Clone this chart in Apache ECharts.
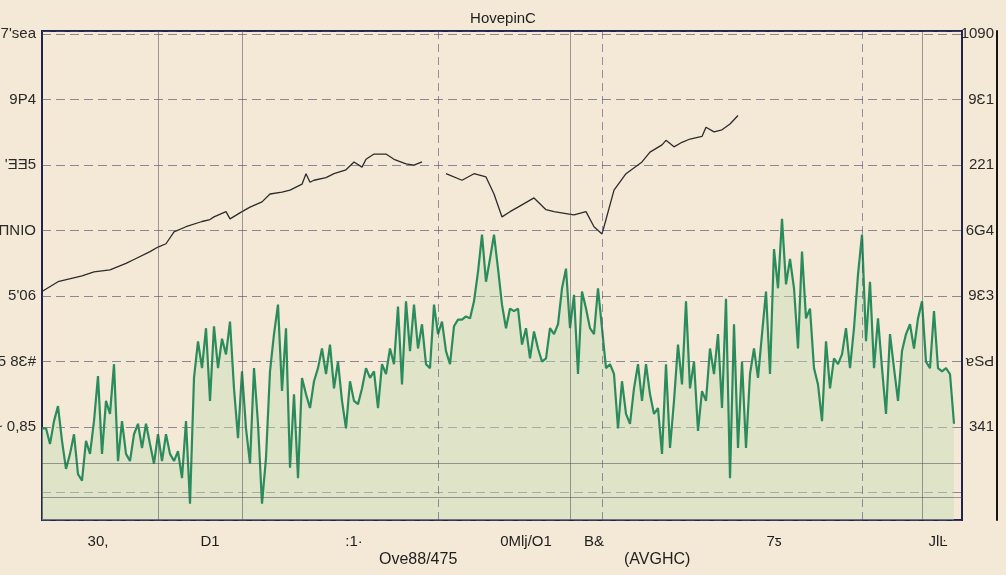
<!DOCTYPE html>
<html>
<head>
<meta charset="utf-8">
<script src="https://cdn.jsdelivr.net/npm/echarts@6/dist/echarts.min.js"></script>
<style>
html,body{margin:0;padding:0;background:#f4e8d6;}
#c{width:1006px;height:575px;}
</style>
</head>
<body>
<div id="c"></div>
<script>
// ---- data ----
const titleText = 'HovepinC';
const subLabels = ['Ove88/475', '(AVGHC)'];
const leftTickLabels  = ['~ 0,85', '5 8Ɛ#', '5\'06', 'ΠNIO', '\'ƎƎ5', '9P4', '7\'sea'];
const rightTickLabels = ['341', 'ɐSԀ', '9Ɛ3', '6G4', '221', '9Ɛ1', '1090'];
const xTickIdx  = [14, 42, 78, 121, 138, 183, 224];
const xTickText = ['30,', 'D1', ':1·', '0Mlj/O1', 'B&', '7ƽ', 'JlĿ'];
const yMin = -1.42, yMax = 6.05;
const refLevels = [-0.55, -1.08];
const vSolidIdx = [29, 50, 132, 220];
const vDashIdx  = [99, 140, 205];

const greenValues = [
 -0.02,-0.02,-0.26,0.09,0.32,-0.21,-0.64,-0.41,-0.11,-0.72,
 -0.82,-0.21,-0.41,0.09,0.78,-0.41,0.40,0.20,0.96,-0.52,
 0.09,-0.41,-0.52,-0.11,0.05,-0.32,0.05,-0.26,-0.56,-0.11,
 -0.52,-0.11,-0.41,-0.52,-0.37,-0.78,0.09,-1.17,0.75,1.31,
 0.90,1.51,0.40,1.54,0.90,1.35,1.11,1.61,0.59,-0.17,
 0.85,-0.02,-0.56,0.90,0.05,-1.17,-0.47,0.85,1.42,1.87,
 0.55,1.51,-0.62,0.50,-0.78,0.75,0.50,0.29,0.70,0.90,
 1.20,0.81,1.26,0.59,1.00,0.40,-0.02,0.70,0.40,0.35,
 0.59,0.90,0.75,0.85,0.29,0.96,0.81,1.20,0.96,1.84,
 0.65,1.92,1.16,1.87,1.20,1.57,0.96,0.90,1.87,1.42,
 1.61,1.16,0.96,1.54,1.64,1.64,1.69,1.66,1.92,2.37,
 2.94,2.22,2.57,2.94,2.42,1.87,1.51,1.81,1.77,1.81,
 1.26,1.51,1.05,1.46,1.20,1.00,1.05,1.51,1.42,1.57,
 2.12,2.42,1.51,2.02,0.81,2.07,1.81,1.51,1.42,2.12,
 1.51,0.90,0.96,0.81,-0.02,0.70,0.20,0.05,0.59,0.96,
 0.40,0.96,0.50,0.20,0.29,-0.41,0.96,-0.32,0.40,1.26,
 0.65,1.92,0.59,1.00,-0.06,0.55,0.40,1.20,0.81,1.42,
 0.29,1.96,-0.78,1.57,-0.32,1.00,-0.32,0.81,1.20,0.75,
 1.42,2.07,0.81,2.72,2.12,3.18,2.18,2.57,2.12,1.20,
 2.68,1.66,1.81,0.90,0.65,0.09,1.31,0.59,1.05,0.96,
 1.11,1.51,0.90,1.51,2.33,2.94,1.31,2.22,0.90,1.66,
 0.90,0.20,1.42,0.90,0.40,1.16,1.42,1.57,1.20,1.66,
 1.92,1.00,0.90,1.77,0.90,0.85,0.90,0.81,0.05,null,
 null
];

const blackPoints = [
 [0,2.07],[4,2.22],[10,2.31],[13,2.37],[17,2.40],[21,2.50],[23,2.56],[27,2.68],
 [29,2.75],[31,2.80],[33,2.98],[36,3.06],[40,3.14],[42,3.17],[43,3.21],[46,3.29],
 [47,3.18],[50,3.29],[52,3.36],[55,3.44],[57,3.56],[60,3.59],[62,3.62],[65,3.71],
 [66,3.87],[67,3.74],[68,3.77],[71,3.81],[73,3.87],[76,3.93],[78,4.05],[80,3.97],
 [81,4.09],[83,4.17],[86,4.17],[88,4.09],[91,4.02],[93,4.00],[95,4.05],[98,'-'],
 [101,3.87],[105,3.77],[108,3.87],[111,3.82],[113,3.56],[115,3.21],[117,3.29],[119,3.36],
 [123,3.50],[126,3.32],[128,3.29],[131,3.26],[133,3.24],[136,3.29],[138,3.06],[140,2.95],
 [141,3.17],[143,3.62],[146,3.87],[150,4.05],[152,4.20],[155,4.31],[156,4.38],[158,4.28],
 [160,4.35],[162,4.40],[165,4.44],[166,4.58],[168,4.51],[170,4.54],[172,4.63],[174,4.76]
];

const xCats = greenValues.map((_, i) => String(i));

// ---- chart ----
const chart = echarts.init(document.getElementById('c'), null, {renderer: 'canvas'});
const labelFont = "'Liberation Sans Narrow','Liberation Sans',Arial,sans-serif";

chart.setOption({
  backgroundColor: '#f4e8d6',
  animation: false,
  title: [
    {text: titleText, left: 'center', top: 6,
     textStyle: {fontSize: 15, fontWeight: 'normal', color: '#1e1e1e', fontFamily: "'Liberation Sans',Arial,sans-serif"}},
    {text: subLabels[0], left: 374, top: 547,
     textStyle: {fontSize: 16, fontWeight: 'normal', color: '#1e1e1e', fontFamily: labelFont}},
    {text: subLabels[1], left: 619, top: 547,
     textStyle: {fontSize: 16, fontWeight: 'normal', color: '#1e1e1e', fontFamily: labelFont}}
  ],
  grid: {left: 42, right: 44, top: 31, bottom: 55, show: true, containLabel: false,
         outerBoundsMode: 'none',
         borderColor: '#22244e', borderWidth: 2, backgroundColor: 'transparent'},
  xAxis: {
    type: 'category', data: xCats, boundaryGap: false,
    axisLine: {show: false}, axisTick: {show: false}, splitLine: {show: false},
    axisLabel: {
      interval: 0, margin: 14, fontSize: 15, color: '#1e1e1e', fontFamily: labelFont,
      formatter: (v, idx) => { const k = xTickIdx.indexOf(idx); return k >= 0 ? xTickText[k] : ''; }
    }
  },
  yAxis: [
    {
      type: 'value', min: yMin, max: yMax, splitNumber: 7,
      axisLine: {show: false}, axisTick: {show: false},
      axisLabel: {margin: 6, fontSize: 15, color: '#2a2a2a', fontFamily: labelFont,
        formatter: v => { const r = Math.round(v); return (Math.abs(v - r) < 1e-6 && r >= 0 && r < leftTickLabels.length) ? leftTickLabels[r] : ''; }},
      splitLine: {show: true, lineStyle: {color: 'rgba(70,70,110,0.6)', type: [9, 5], width: 1}}
    },
    {
      type: 'value', min: yMin, max: yMax, splitNumber: 7, position: 'right', offset: 35,
      axisLine: {show: true, lineStyle: {color: '#151515', width: 2}}, axisTick: {show: false},
      axisLabel: {inside: true, margin: 3, fontSize: 15, color: '#2a2a2a', fontFamily: labelFont,
        formatter: v => { const r = Math.round(v); return (Math.abs(v - r) < 1e-6 && r >= 0 && r < rightTickLabels.length) ? rightTickLabels[r] : ''; }},
      splitLine: {show: false}
    }
  ],
  series: [
    {
      name: 'green', type: 'line', data: greenValues, showSymbol: false, symbol: 'none',
      lineStyle: {color: '#2a8c5c', width: 2.2},
      areaStyle: {color: 'rgba(196,222,182,0.62)', origin: 'start'},
      z: 3,
      markLine: {
        silent: true, symbol: 'none', label: {show: false},
        lineStyle: {color: 'rgba(80,80,90,0.55)', type: 'solid', width: 1},
        data: refLevels.map(v => ({yAxis: v})).concat(vSolidIdx.map(i => ({xAxis: String(i)})))
      }
    },
    {
      name: 'black', type: 'line', data: blackPoints, showSymbol: false, symbol: 'none',
      connectNulls: false,
      lineStyle: {color: '#2c2c2c', width: 1.3},
      z: 4,
      markLine: {
        silent: true, symbol: 'none', label: {show: false},
        lineStyle: {color: 'rgba(70,70,110,0.55)', type: [8, 5], width: 1},
        data: vDashIdx.map(i => ({xAxis: String(i)}))
      }
    }
  ]
});
</script>
</body>
</html>
